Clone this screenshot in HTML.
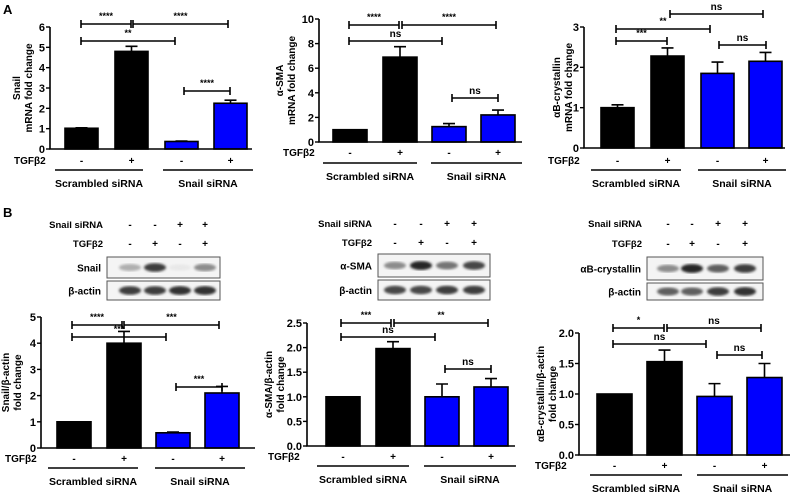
<!DOCTYPE html>
<html><head><meta charset="utf-8"><style>
body{margin:0;background:#fff}
svg{display:block;font-family:"Liberation Sans",Arial,sans-serif;font-weight:bold}
</style></head><body>
<svg id="fig" width="800" height="498" viewBox="0 0 800 498">
<text x="3" y="14" font-size="13">A</text>
<text x="3" y="217" font-size="13">B</text>
</svg>
<script>
const groups = ["Scrambled siRNA","Snail siRNA"];
const tgfSigns = ["-","+","-","+"];
const siSigns = ["-","-","+","+"];
const snailMrna = [1.02,4.8,0.37,2.25];
const snailMrnaErr = [0.02,0.25,0.02,0.15];
const smaMrna = [1.0,6.9,1.25,2.2];
const smaMrnaErr = [0,0.85,0.25,0.4];
const cryMrna = [1.0,2.28,1.85,2.15];
const cryMrnaErr = [0.07,0.2,0.28,0.22];
const snailProt = [1.0,4.0,0.58,2.1];
const snailProtErr = [0,0.45,0.03,0.25];
const smaProt = [1.0,1.98,1.0,1.2];
const smaProtErr = [0,0.14,0.26,0.17];
const cryProt = [1.0,1.53,0.96,1.27];
const cryProtErr = [0,0.19,0.21,0.23];
const ticksA1 = ["0","1","2","3","4","5","6"];
const ticksA2 = ["0","2","4","6","8","10"];
const ticksA3 = ["0","1","2","3"];
const ticksB1 = ["0","1","2","3","4","5"];
const ticksB2 = ["0.0","0.5","1.0","1.5","2.0","2.5"];
const ticksB3 = ["0.0","0.5","1.0","1.5","2.0"];
const svg=document.getElementById('fig');
const NS='http://www.w3.org/2000/svg';
function mk(tag,attrs,parent,txt){const e=document.createElementNS(NS,tag);for(const k in attrs)e.setAttribute(k,attrs[k]);if(txt!==undefined)e.textContent=txt;(parent||svg).appendChild(e);return e;}
function panel(p){
  const g=mk('g',{});
  
  
  const ymax=parseFloat(p.ticks[p.ticks.length-1]);
  const y=v=>p.y0-(v/ymax)*(p.y0-p.ytop);
  const xb=i=>p.bx[i];
  p.vals.forEach((v,i)=>{
    const r=mk('rect',{x:xb(i),y:y(v),width:p.bw,height:p.y0-y(v),fill:i<2?'#000':'#0000ff',stroke:'#000','stroke-width':1.6},g);
    
    
    const e=p.err[i];
    if(e>0){const cx=xb(i)+p.bw/2;
      const eb=mk('path',{d:`M${cx} ${y(v)}V${y(v+e)}M${cx-6} ${y(v+e)}H${cx+6}`,stroke:'#000','stroke-width':1.6,fill:'none'},g);
      
      }
  });
  const ax=mk('path',{d:`M${p.ax} ${p.ytop}V${p.y0}H${p.xend}`,stroke:'#000','stroke-width':1.6,fill:'none'},g);
  
  
  p.ticks.forEach(t=>{const yy=y(parseFloat(t));
    mk('path',{d:`M${p.ax-4} ${yy}H${p.ax}`,stroke:'#000','stroke-width':1.4},g);
    const tl=mk('text',{x:p.ax-5,y:yy+4,'font-size':11,'text-anchor':'end'},g,t);
    
    
  });
  const yt=mk('text',{transform:`translate(${p.ylx},${(p.y0+p.ytop)/2}) rotate(-90)`,'font-size':10,'text-anchor':'middle'},g);
  
  
  p.ylab.forEach((l,i)=>mk('tspan',{x:0,dy:i==0?0:12},yt,l));
  const tg=mk('text',{x:p.tgfx,y:p.tgfy+4,'font-size':10},g,'TGFβ2');
  
  
  tgfSigns.forEach((s,i)=>mk('text',{x:xb(i)+p.bw/2,y:p.tgfy+4,'font-size':10,'text-anchor':'middle'},g,s));
  p.ul.forEach((u,i)=>{
    mk('path',{d:`M${u[0]} ${p.uly}H${u[1]}`,stroke:'#000','stroke-width':1.4},g);
    const gl=mk('text',{x:(u[0]+u[1])/2,y:p.uly+17,'font-size':10.5,'text-anchor':'middle'},g,groups[i]);
    
    
  });
  p.br.forEach(b=>{
    const bp=mk('path',{d:`M${b[1]} ${b[0]}H${b[2]}M${b[1]} ${b[0]-4}v8M${b[2]} ${b[0]-4}v8`,stroke:'#000','stroke-width':1.6,fill:'none'},g);
    
    
    mk('text',{x:(b[1]+b[2])/2,y:b[0]-(b[3]=='ns'?4:5),'font-size':b[3]=='ns'?10:9,'text-anchor':'middle'},g,b[3]);
  });
}
function blot(b){
  const g=mk('g',{});
  
  
  mk('text',{x:b.lx,y:b.sy+4,'font-size':9.5,'text-anchor':'end'},g,'Snail siRNA');
  mk('text',{x:b.lx,y:b.ty+4,'font-size':9.5,'text-anchor':'end'},g,'TGFβ2');
  b.sx.forEach((x,i)=>{mk('text',{x:x,y:b.sy+4,'font-size':10,'text-anchor':'middle'},g,siSigns[i]);mk('text',{x:x,y:b.ty+4,'font-size':10,'text-anchor':'middle'},g,tgfSigns[i]);});
  [[b.b1,b.prot,b.int1],[b.b2,'β-actin',b.int2]].forEach(([yy,lab,ints])=>{
    mk('rect',{x:b.x1,y:yy[0],width:b.x2-b.x1,height:yy[1]-yy[0],fill:'#f4f4f4',stroke:'#555','stroke-width':1},g);
    const lt=mk('text',{x:b.x1-6,y:(yy[0]+yy[1])/2+4,'font-size':10,'text-anchor':'end'},g,lab);
    
    
    b.sx.forEach((x,i)=>{const c=Math.round(255-ints[i]*230);
      mk('ellipse',{cx:x,cy:(yy[0]+yy[1])/2,rx:11,ry:3+ints[i]*1.5,fill:`rgb(${c},${c},${c})`,filter:'url(#blur)'},g);});
  });
}
mk('filter',{id:'blur'},mk('defs',{})).appendChild(document.createElementNS(NS,'feGaussianBlur')).setAttribute('stdDeviation','1.3');
panel({name:'chart-a-snail',ticks:ticksA1,vals:snailMrna,err:snailMrnaErr,ax:50,y0:149,ytop:27,bx:[65,115,165,214],bw:33,xend:252,ylx:20,ylab:['Snail','mRNA fold change'],tgfx:14,tgfy:160,uly:170,ul:[[55,143],[163,253]],br:[[24,81,131,'****'],[24,133,228,'****'],[41,81,175,'**'],[91,184,230,'****']]});
panel({name:'chart-a-sma',ticks:ticksA2,vals:smaMrna,err:smaMrnaErr,ax:319,y0:142,ytop:19,bx:[333,383,432,481],bw:34,xend:522,ylx:283,ylab:['α-SMA','mRNA fold change'],tgfx:283,tgfy:152,uly:163,ul:[[323,417],[431,522]],br:[[25,349,399,'****'],[25,402,496,'****'],[41,349,442,'ns'],[98,452,498,'ns']]});
panel({name:'chart-a-crystallin',ticks:ticksA3,vals:cryMrna,err:cryMrnaErr,ax:584,y0:148,ytop:27,bx:[601,651,701,749],bw:33,xend:785,ylx:560,ylab:['αB-crystallin','mRNA fold change'],tgfx:548,tgfy:160,uly:170,ul:[[591,681],[698,786]],br:[[14,670,763,'ns'],[29,616,710,'**'],[41,616,667,'***'],[45,719,766,'ns']]});
panel({name:'chart-b-snail',ticks:ticksB1,vals:snailProt,err:snailProtErr,ax:41,y0:448,ytop:317,bx:[57,107,156,205],bw:34,xend:255,ylx:9,ylab:['Snail/β-actin','fold change'],tgfx:5,tgfy:458,uly:468,ul:[[48,138],[155,245]],br:[[325,72,122,'****'],[325,124,219,'***'],[337,72,166,'***'],[387,176,222,'***']]});
panel({name:'chart-b-sma',ticks:ticksB2,vals:smaProt,err:smaProtErr,ax:307,y0:446,ytop:323,bx:[326,376,425,474],bw:34,xend:515,ylx:272,ylab:['α-SMA/β-actin','fold change'],tgfx:268,tgfy:456,uly:466,ul:[[317,409],[424,516]],br:[[323,341,391,'***'],[323,394,488,'**'],[337,341,435,'ns'],[369,445,491,'ns']]});
panel({name:'chart-b-crystallin',ticks:ticksB3,vals:cryProt,err:cryProtErr,ax:579,y0:455,ytop:333,bx:[597,647,697,747],bw:35,xend:790,ylx:544,ylab:['αB-crystallin/β-actin','fold change'],tgfx:535,tgfy:465,uly:475,ul:[[590,682],[697,788]],br:[[328,613,664,'*'],[328,667,761,'ns'],[344,613,706,'ns'],[355,717,762,'ns']]});
blot({name:'blot-snail',lx:103,sy:224,ty:243,sx:[130,155,180,205],x1:107,x2:220,b1:[257,278],b2:[281,300],prot:'Snail',int1:[0.35,0.85,0.1,0.5],int2:[0.85,0.85,0.9,0.9]});
blot({name:'blot-sma',lx:372,sy:223,ty:242,sx:[395,421,447,474],x1:378,x2:490,b1:[254,277],b2:[280,300],prot:'α-SMA',int1:[0.5,0.95,0.6,0.8],int2:[0.8,0.8,0.85,0.85]});
blot({name:'blot-crystallin',lx:642,sy:223,ty:243,sx:[668,692,718,745],x1:647,x2:763,b1:[257,280],b2:[283,300],prot:'αB-crystallin',int1:[0.5,0.95,0.7,0.85],int2:[0.7,0.7,0.85,0.9]});
</script>
</body></html>
